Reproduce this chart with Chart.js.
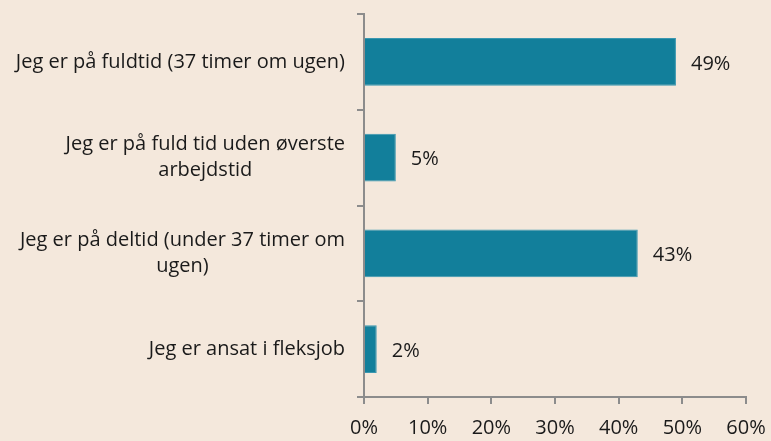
<!DOCTYPE html>
<html>
<head>
<meta charset="utf-8">
<script src="https://cdn.jsdelivr.net/npm/chart.js@4"></script>
<style>
  html, body { margin: 0; padding: 0; background: #f4e8dc; }
  #wrap { width: 771px; height: 441px; }
</style>
</head>
<body>
<div id="wrap"><canvas id="myChart" width="771" height="441"></canvas></div>
<script>
const kategorier = [
    ['Jeg er på fuldtid (37 timer om ugen)'],
    ['Jeg er på fuld tid uden øverste', 'arbejdstid'],
    ['Jeg er på deltid (under 37 timer om', 'ugen)'],
    ['Jeg er ansat i fleksjob']
];
const andele = [49, 5, 43, 2];
const xTicks = [0, 10, 20, 30, 40, 50, 60];

const FONT = '"Open Sans", "Noto Sans", sans-serif';

// etiketter på y-aksen: blokken højrestillet, linjerne centreret
const labelPlugin = {
    id: 'labels',
    afterDraw(chart) {
        const ctx = chart.ctx;
        const y = chart.scales.y;
        ctx.save();
        ctx.font = '20px ' + FONT;
        ctx.fillStyle = '#1a1a1a';
        ctx.textAlign = 'center';
        ctx.textBaseline = 'middle';
        const right = y.right - 19;
        const lh = 26;
        kategorier.forEach((lines, i) => {
            const w = Math.max(...lines.map(l => ctx.measureText(l).width));
            const cx = right - w / 2;
            const cy = y.getPixelForTick(i);
            lines.forEach((l, j) => {
                ctx.fillText(l, cx, cy + (j - (lines.length - 1) / 2) * lh);
            });
        });
        // værdier ved søjlerne
        const meta = chart.getDatasetMeta(0);
        ctx.textAlign = 'left';
        meta.data.forEach((bar, i) => {
            ctx.fillText(andele[i] + '%', bar.x + 15, bar.y + 2);
        });
        ctx.restore();
    }
};

new Chart(document.getElementById('myChart'), {
    type: 'bar',
    data: {
        labels: kategorier,
        datasets: [{
            data: andele,
            backgroundColor: '#127f9b',
            borderColor: '#3a97b0',
            borderWidth: 1,
            barPercentage: 0.5,
            categoryPercentage: 1
        }]
    },
    options: {
        indexAxis: 'y',
        responsive: false,
        animation: false,
        layout: { padding: { top: 14, right: 25, left: 0, bottom: 0 } },
        plugins: { legend: { display: false }, tooltip: { enabled: false } },
        scales: {
            x: {
                min: 0, max: 60,
                afterBuildTicks(s) { s.ticks = xTicks.map(v => ({ value: v })); },
                afterFit(s) { s.height = 44; s.paddingLeft = 0; s.paddingRight = 0; },
                border: { color: '#8c8c8c', width: 2 },
                grid: { drawOnChartArea: false, tickLength: 7, color: '#8c8c8c', lineWidth: 2 },
                ticks: {
                    callback: v => v + '%',
                    color: '#1a1a1a',
                    font: { family: FONT, size: 20 },
                    padding: 12,
                    maxRotation: 0
                }
            },
            y: {
                afterFit(s) { s.width = 364; },
                border: { color: '#8c8c8c', width: 2 },
                grid: { drawOnChartArea: false, tickLength: 7, color: '#8c8c8c', lineWidth: 2 },
                ticks: { display: false }
            }
        }
    },
    plugins: [labelPlugin]
});
</script>
</body>
</html>
